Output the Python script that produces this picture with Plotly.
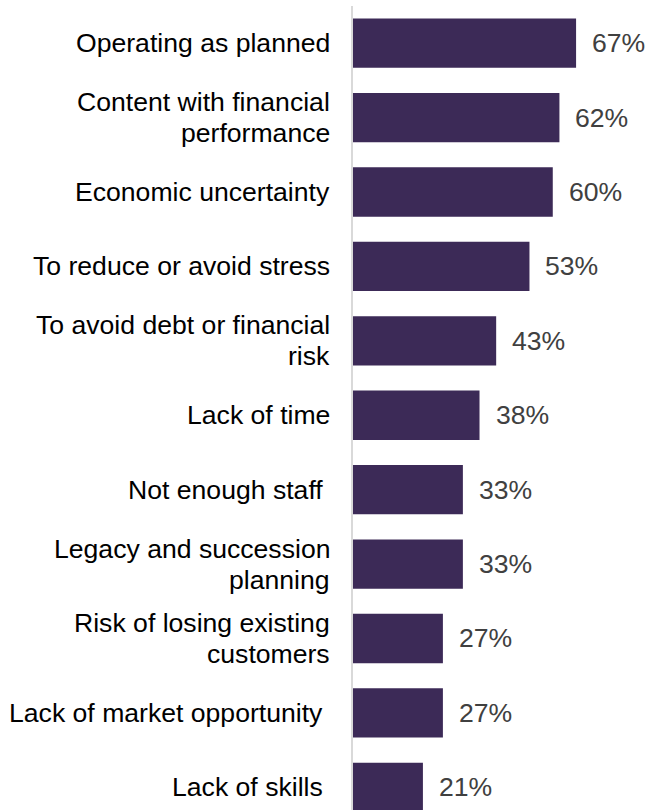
import plotly.graph_objects as go

# Reasons given, top to bottom, with share of respondents (%)
categories = [
    "Operating as planned",
    "Content with financial\nperformance",
    "Economic uncertainty",
    "To reduce or avoid stress",
    "To avoid debt or financial\nrisk",
    "Lack of time",
    "Not enough staff\u00a0",
    "Legacy and succession\nplanning",
    "Risk of losing existing\ncustomers",
    "Lack of market opportunity\u00a0",
    "Lack of skills\u00a0",
]
values = [67, 62, 60, 53, 43, 38, 33, 33, 27, 27, 21]
value_labels = [f"{v}%" for v in values]

BAR_COLOR = "#3C2A57"
FONT = "Liberation Sans, Arial, sans-serif"
FONT_SIZE = 26.6
LINE_PITCH = 31

positions = list(range(len(categories)))

fig = go.Figure(
    go.Bar(
        x=values,
        y=positions,
        orientation="h",
        marker=dict(color=BAR_COLOR, line=dict(width=0)),
        width=0.663,
        hoverinfo="skip",
    )
)

annotations = []
# Category labels, right-aligned to the left of the axis
for pos, label in zip(positions, categories):
    lines = label.split("\n")
    n = len(lines)
    for i, line in enumerate(lines):
        offset = ((n - 1) / 2 - i) * LINE_PITCH
        annotations.append(
            dict(
                x=0, y=pos, xref="x", yref="y",
                text=line, showarrow=False,
                xanchor="right", yanchor="middle",
                xshift=-21, yshift=offset,
                font=dict(family=FONT, size=FONT_SIZE, color="#000000"),
            )
        )

# Value labels at the end of each bar
for pos, v, txt in zip(positions, values, value_labels):
    annotations.append(
        dict(
            x=v, y=pos, xref="x", yref="y",
            text=txt, showarrow=False,
            xanchor="left", yanchor="middle",
            xshift=14,
            font=dict(family=FONT, size=FONT_SIZE, color="#404040"),
        )
    )

fig.update_layout(
    width=647,
    height=810,
    margin=dict(l=353, r=0, t=6, b=0, pad=0),
    paper_bgcolor="white",
    plot_bgcolor="white",
    showlegend=False,
    bargap=0.337,
    annotations=annotations,
    xaxis=dict(
        range=[0, 88.3],
        showgrid=False,
        zeroline=False,
        showticklabels=False,
        showline=False,
        fixedrange=True,
    ),
    yaxis=dict(
        range=[10.305, -0.5],
        showgrid=False,
        zeroline=False,
        showticklabels=False,
        ticks="",
        showline=True,
        linecolor="#D9D9D9",
        linewidth=1.5,
        fixedrange=True,
    ),
)

fig.write_html("out.html")
